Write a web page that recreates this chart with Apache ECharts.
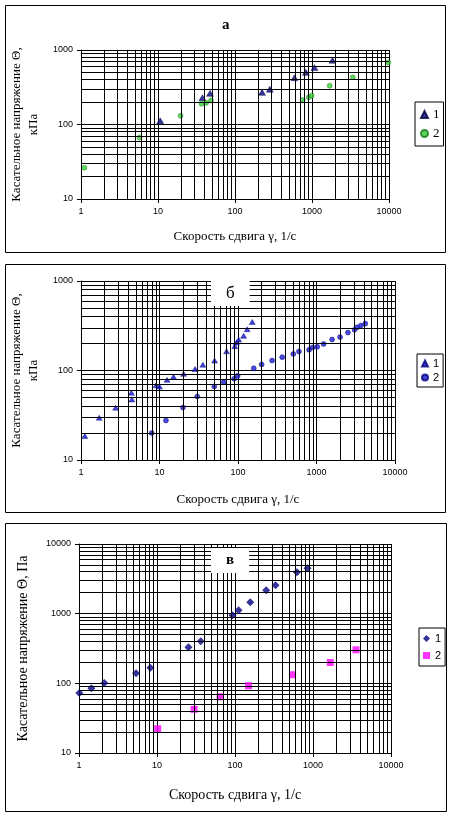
<!DOCTYPE html>
<html>
<head>
<meta charset="UTF-8">
<title>Касательное напряжение - скорость сдвига</title>
<style>
  html, body { margin: 0; padding: 0; background: #fff; }
  .panel { position: absolute; left: 0; top: 0; width: 454px; height: 818px; }
</style>
</head>
<body>
<div id="chart-a" class="panel"></div>
<div id="chart-b" class="panel"></div>
<div id="chart-v" class="panel"></div>
<script src="https://cdn.jsdelivr.net/npm/echarts@6/dist/echarts.min.js"></script>
<script>
// ---- data (shear rate 1/s, stress) ----
var rateA1 = [10.7, 37.8, 47.5, 225, 283, 592, 833, 1077, 1848];
var stressA1 = [112, 229, 262, 270, 297, 425, 501, 580, 727];
var rateA2 = [1.11, 5.78, 19.7, 36.8, 42.4, 48.9, 758, 907, 988, 1698, 3390, 9800];
var stressA2 = [26.3, 67, 131, 190, 196, 211, 213, 232, 244, 332, 430, 682];

var rateB1 = [1.12, 1.71, 2.77, 4.4, 4.45, 9.07, 10, 12.5, 15.1, 20.3, 28.4, 35.7, 50.4, 71.6, 91.2, 95.5, 102, 118, 131, 152];
var stressB1 = [18.5, 29.7, 38.4, 56.4, 47.5, 68.5, 66.3, 78.7, 85, 91.9, 104, 116, 129, 164, 187, 205, 222, 244, 289, 349];
var rateB2 = [7.97, 12.1, 19.9, 30.3, 49.9, 65.9, 89.5, 99.1, 159, 200, 272, 366, 506, 598, 804, 891, 1024, 1233, 1582, 1995, 2513, 3054, 3289, 3675, 4186];
var stressB2 = [20, 27.7, 38.6, 51.3, 66.4, 74.1, 80.8, 87.3, 106, 117, 129, 141, 153, 163, 170, 181, 184, 198, 222, 236, 265, 285, 304, 318, 334];

var rateV1 = [1.01, 1.44, 2.11, 5.39, 8.23, 25.3, 36.4, 92.9, 111, 157, 251, 331, 622, 852];
var stressV1 = [72.4, 85.3, 101, 140, 167, 330, 403, 950, 1119, 1459, 2168, 2560, 3929, 4478];
var rateV2 = [10.2, 29.9, 64.5, 149, 547, 1665, 3555];
var stressV2 = [22.3, 42.3, 64.1, 92.3, 133, 199, 303];

var legendNames = ['1', '2'];
var minorSteps = [2, 3, 4, 5, 6, 7, 8, 9];

var SERIF = '"Liberation Serif", "Times New Roman", serif';
var SANS = '"Liberation Sans", Arial, sans-serif';

function pairs(xs, ys) {
  return xs.map(function (x, i) { return [x, ys[i]]; });
}

// 2..9 lines inside every decade
function minorLines(min, max) {
  var out = [];
  for (var d = min; d < max; d *= 10) {
    minorSteps.forEach(function (s) { out.push(d * s); });
  }
  return out;
}

function buildOption(p) {
  var lines = [];
  minorLines(1, 10000).forEach(function (v) { lines.push({ xAxis: v }); });
  minorLines(p.yMin, p.yMax).forEach(function (v) { lines.push({ yAxis: v }); });

  var tickLabel = {
    color: '#000', fontFamily: SANS, fontSize: 9, margin: 8,
    formatter: function (v) { return String(Math.round(v)); }
  };

  return {
    animation: false,
    title: p.title,
    legend: p.legend,
    grid: p.grid,
    graphic: [{
      type: 'rect', silent: true,
      shape: p.frame,
      style: { fill: 'none', stroke: '#000', lineWidth: 1 }
    }],
    xAxis: {
      type: 'log', logBase: 10, min: 1, max: 10000,
      name: 'Скорость сдвига γ, 1/с',
      nameLocation: 'middle', nameGap: p.xNameGap,
      nameTextStyle: { color: '#000', fontFamily: SERIF, fontSize: p.nameSize },
      axisLine: { onZero: false, lineStyle: { color: '#000', width: 1 } },
      axisTick: { show: true, length: 4, lineStyle: { color: '#000' } },
      axisLabel: tickLabel,
      splitLine: { show: true, lineStyle: { color: '#000', width: 1 } }
    },
    yAxis: {
      type: 'log', logBase: 10, min: p.yMin, max: p.yMax,
      name: p.yName,
      nameLocation: 'middle', nameGap: p.yNameGap, nameRotate: 90,
      nameTextStyle: { color: '#000', fontFamily: SERIF, fontSize: p.nameSize, lineHeight: 17 },
      axisLine: { onZero: false, lineStyle: { color: '#000', width: 1 } },
      axisTick: { show: true, length: 4, lineStyle: { color: '#000' } },
      axisLabel: tickLabel,
      splitLine: { show: true, lineStyle: { color: '#000', width: 1 } }
    },
    series: [{
      name: 'minor', type: 'line', data: [], silent: true, z: 1,
      markLine: {
        silent: true, animation: false,
        symbol: ['none', 'none'],
        label: { show: false },
        emphasis: { disabled: true },
        lineStyle: { color: '#000', width: 1, type: 'solid' },
        data: lines
      }
    }].concat(p.series.map(function (s, i) {
      return {
        name: legendNames[i], type: 'scatter', z: 3,
        symbol: s.symbol, symbolSize: s.size,
        itemStyle: s.style,
        emphasis: { disabled: true },
        data: s.data
      };
    }))
  };
}

var optA = buildOption({
  frame: { x: 5.5, y: 5.5, width: 440, height: 247 },
  grid: { left: 66, top: 50, width: 323, height: 149 },
  yMin: 10, yMax: 1000,
  yName: 'Касательное напряжение Θ,\nкПа', yNameGap: 23,
  xNameGap: 31, nameSize: 13,
  title: {
    text: 'а', left: 222, top: 18, padding: 0,
    textStyle: { color: '#000', fontFamily: SERIF, fontSize: 15, fontWeight: 'bold' }
  },
  legend: {
    data: legendNames, orient: 'vertical', left: 415, top: 102,
    padding: [6, 4, 6, 5], itemGap: 6, itemWidth: 7, itemHeight: 7,
    borderColor: '#000', borderWidth: 1, borderRadius: 0,
    textStyle: { color: '#000', fontFamily: SERIF, fontSize: 13 }
  },
  series: [
    { symbol: 'triangle', size: [7, 6], style: { color: '#000080', borderColor: '#000040', borderWidth: 0.5 }, data: pairs(rateA1, stressA1) },
    { symbol: 'circle', size: 5, style: { color: '#33cc33', borderColor: '#117711', borderWidth: 0.5 }, data: pairs(rateA2, stressA2) }
  ]
});

var optB = buildOption({
  frame: { x: 5.5, y: 264.5, width: 440, height: 248 },
  grid: { left: 64, top: 281, width: 331, height: 179 },
  yMin: 10, yMax: 1000,
  yName: 'Касательное напряжение Θ,\nкПа', yNameGap: 21,
  xNameGap: 33, nameSize: 13,
  title: {
    text: 'б', left: 211, top: 281, padding: [4, 15, 4, 15], backgroundColor: '#fff',
    textStyle: { color: '#000', fontFamily: SERIF, fontSize: 17, fontWeight: 'normal' }
  },
  legend: {
    data: legendNames, orient: 'vertical', left: 417, top: 354,
    padding: [4, 4, 4, 4], itemGap: 3, itemWidth: 6, itemHeight: 6,
    borderColor: '#000', borderWidth: 1, borderRadius: 0,
    textStyle: { color: '#000', fontFamily: SANS, fontSize: 11 }
  },
  series: [
    { symbol: 'triangle', size: [6, 5], style: { color: '#1010d0', borderColor: '#000080', borderWidth: 0.5 }, data: pairs(rateB1, stressB1) },
    { symbol: 'circle', size: 5, style: { color: '#1a1ad0', borderColor: '#000080', borderWidth: 0.5 }, data: pairs(rateB2, stressB2) }
  ]
});

var optV = buildOption({
  frame: { x: 5.5, y: 523.5, width: 441, height: 288 },
  grid: { left: 79, top: 544, width: 312, height: 209 },
  yMin: 10, yMax: 10000,
  yName: 'Касательное напряжение Θ, Па', yNameGap: 47,
  xNameGap: 35, nameSize: 14,
  title: {
    text: 'в', left: 211, top: 548, padding: [5, 15, 5, 15], backgroundColor: '#fff',
    textStyle: { color: '#000', fontFamily: SERIF, fontSize: 15, fontWeight: 'bold' }
  },
  legend: {
    data: legendNames, orient: 'vertical', left: 419, top: 628,
    padding: [5, 4, 5, 4], itemGap: 6, itemWidth: 7, itemHeight: 7,
    borderColor: '#000', borderWidth: 1, borderRadius: 0,
    textStyle: { color: '#000', fontFamily: SANS, fontSize: 11 }
  },
  series: [
    { symbol: 'diamond', size: 8, style: { color: '#000080' }, data: pairs(rateV1, stressV1) },
    { symbol: 'rect', size: 7, style: { color: '#ff00ff' }, data: pairs(rateV2, stressV2) }
  ]
});

echarts.init(document.getElementById('chart-a')).setOption(optA);
echarts.init(document.getElementById('chart-b')).setOption(optB);
echarts.init(document.getElementById('chart-v')).setOption(optV);
</script>
</body>
</html>
